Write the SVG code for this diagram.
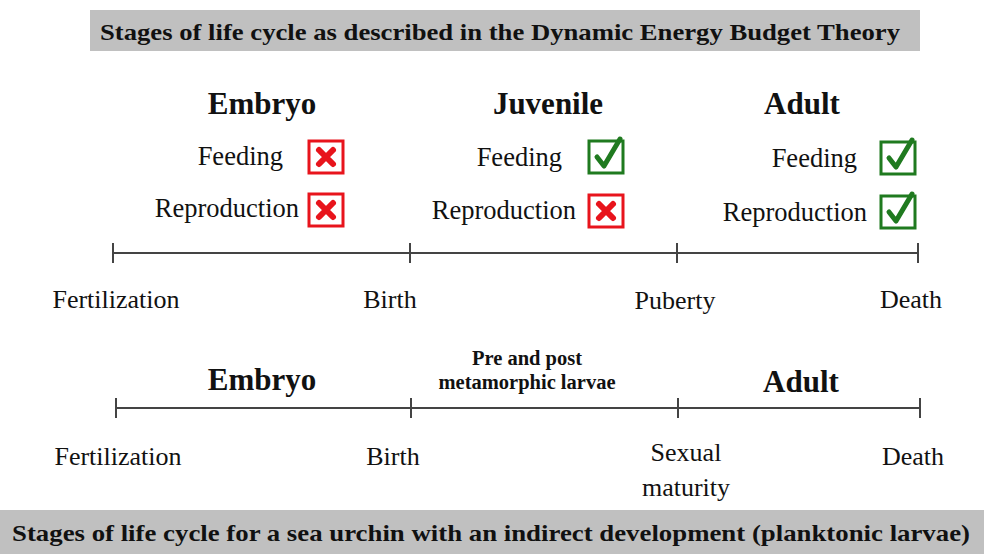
<svg xmlns="http://www.w3.org/2000/svg" width="984" height="554" viewBox="0 0 984 554">
<defs>
<style>
text{font-family:"Liberation Serif","DejaVu Serif",serif;fill:#111}
.ban{font-weight:bold;font-size:24px}
.hd{font-weight:bold;font-size:31px;text-anchor:middle}
.sm{font-weight:bold;font-size:20.5px;text-anchor:middle}
.lb{font-size:26px;text-anchor:middle}
.rt{font-size:26.5px;text-anchor:end}
.tl{stroke:#444;stroke-width:2;fill:none}
.xb{fill:#fff;stroke:#e8141c;stroke-width:3}
.xm{stroke:#e8141c;stroke-width:6;stroke-linecap:round;fill:none}
.cb{fill:#fff;stroke:#1f7a1f;stroke-width:3}
.cm{stroke:#1f7a1f;stroke-width:5;stroke-linecap:round;stroke-linejoin:round;fill:none}
</style>
<g id="xbox"><rect class="xb" x="0" y="0" width="34" height="32"/><path class="xm" d="M10 9 L24 23 M24 9 L10 23"/></g>
<g id="cbox"><rect class="cb" x="0" y="0" width="34" height="32"/><path class="cm" d="M8 16 L15 25 L31 -2"/></g>
</defs>
<rect width="984" height="554" fill="#fff"/>
<g id="banner-top"><rect x="90" y="10" width="830" height="41" fill="#c0c0c0"/><text class="ban" x="100" y="40" textLength="800" lengthAdjust="spacingAndGlyphs">Stages of life cycle as described in the Dynamic Energy Budget Theory</text></g>
<g id="embryo1"><text class="hd" x="262" y="114">Embryo</text><text class="rt" x="283" y="165">Feeding</text><use href="#xbox" x="309" y="141"/><text class="rt" x="299" y="217">Reproduction</text><use href="#xbox" x="309" y="194"/></g>
<g id="juvenile1"><text class="hd" x="548" y="114">Juvenile</text><text class="rt" x="562" y="166">Feeding</text><use href="#cbox" x="589" y="141"/><text class="rt" x="576" y="219">Reproduction</text><use href="#xbox" x="589" y="195"/></g>
<g id="adult1"><text class="hd" x="802" y="114">Adult</text><text class="rt" x="857" y="167">Feeding</text><use href="#cbox" x="881" y="142"/><text class="rt" x="867" y="221">Reproduction</text><use href="#cbox" x="881" y="196"/></g>
<g id="timeline1" class="connectors"><path class="tl" d="M113 253 H918 M113 243 V263 M410 243 V263 M677 243 V263 M918 243 V263"/></g>
<g id="labels1"><text class="lb" x="116" y="308">Fertilization</text><text class="lb" x="390" y="308">Birth</text><text class="lb" x="675" y="309">Puberty</text><text class="lb" x="911" y="308">Death</text></g>
<g id="embryo2"><text class="hd" x="262" y="390">Embryo</text></g>
<g id="larvae2"><text class="sm" x="527" y="365">Pre and post</text><text class="sm" x="527" y="389">metamorphic larvae</text></g>
<g id="adult2"><text class="hd" x="801" y="392">Adult</text></g>
<g id="timeline2" class="connectors"><path class="tl" d="M116 408 H920 M116 398 V418 M411 398 V418 M678 398 V418 M920 398 V418"/></g>
<g id="labels2"><text class="lb" x="118" y="465">Fertilization</text><text class="lb" x="393" y="465">Birth</text><text class="lb" x="686" y="461">Sexual</text><text class="lb" x="686" y="496">maturity</text><text class="lb" x="913" y="465">Death</text></g>
<g id="banner-bottom"><rect x="0" y="510" width="984" height="44" fill="#c0c0c0"/><text class="ban" x="12" y="541" textLength="958" lengthAdjust="spacingAndGlyphs">Stages of life cycle for a sea urchin with an indirect development (planktonic larvae)</text></g>
</svg>
